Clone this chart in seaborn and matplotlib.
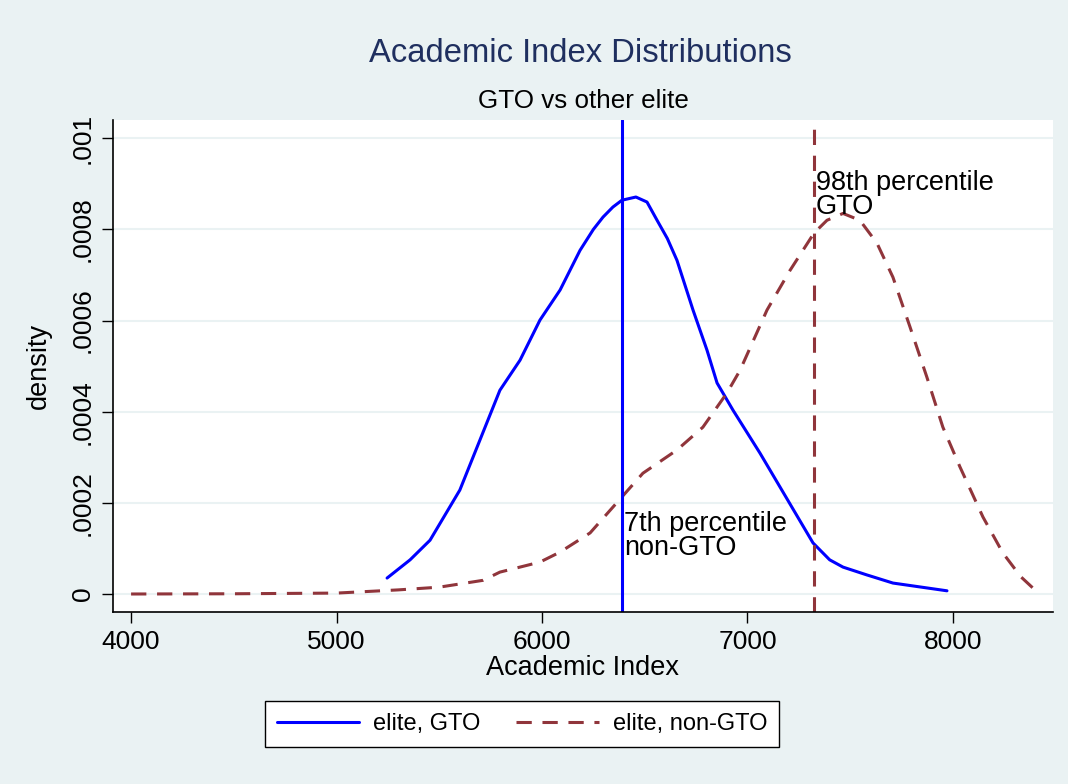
import numpy as np
import pandas as pd
import matplotlib
matplotlib.use('Agg')
import matplotlib.pyplot as plt
import seaborn as sns
from matplotlib.lines import Line2D

# density estimates
gto_x = [5246, 5358, 5455, 5600, 5698, 5795, 5893, 5990, 6088, 6185, 6250, 6297,
         6345, 6389, 6457, 6511, 6560, 6610, 6657, 6735, 6803, 6852, 6930, 7061,
         7158, 7319, 7400, 7465, 7580, 7708, 7971]
gto_y = [0.000035, 0.000075, 0.000118, 0.000228, 0.000338, 0.000447, 0.000513,
         0.000601, 0.000667, 0.000754, 0.000800, 0.000827, 0.000849, 0.000864,
         0.000871, 0.000860, 0.000820, 0.000780, 0.000732, 0.000623, 0.000535,
         0.000463, 0.000403, 0.000309, 0.000235, 0.000112, 0.000075, 0.000059,
         0.000042, 0.000024, 0.000007]

non_x = [4000, 4500, 5000, 5300, 5500, 5713, 5795, 5990, 6088, 6234, 6389, 6491,
         6657, 6783, 6900, 6964, 7095, 7207, 7324, 7387, 7465, 7547, 7630, 7708,
         7791, 7873, 7951, 8034, 8146, 8243, 8330, 8399]
non_y = [0.0, 0.0000005, 0.000002, 0.000009, 0.000015, 0.00003, 0.000048, 0.00007,
         0.000092, 0.000134, 0.000213, 0.000265, 0.000316, 0.000366, 0.000441,
         0.000491, 0.000623, 0.00071, 0.000792, 0.00082, 0.000835, 0.00082,
         0.00077, 0.000695, 0.000586, 0.000476, 0.000366, 0.000279, 0.000169,
         0.00009, 0.000038, 0.000009]

p7_nongto = 6389
p98_gto = 7324

series_labels = ['elite, GTO', 'elite, non-GTO']
x_ticks = [4000, 5000, 6000, 7000, 8000]
y_ticks = [0, 0.0002, 0.0004, 0.0006, 0.0008, 0.001]
y_ticklabels = ['0', '.0002', '.0004', '.0006', '.0008', '.001']

bg = '#EAF2F3'
blue = '#0000FF'
maroon = '#90353B'
dash = [5, 3.5]

sns.set_style('white')
plt.rcParams['font.family'] = ['Liberation Sans', 'DejaVu Sans']
plt.rcParams['text.color'] = 'black'
plt.rcParams['axes.labelcolor'] = 'black'
plt.rcParams['xtick.color'] = 'black'
plt.rcParams['ytick.color'] = 'black'

fig = plt.figure(figsize=(10.68, 7.84), dpi=100, facecolor=bg)
ax = fig.add_axes([113 / 1068, 1 - 612 / 784, 940 / 1068, 492 / 784])
ax.set_facecolor('white')

gto = pd.DataFrame({'x': gto_x, 'y': gto_y})
non = pd.DataFrame({'x': non_x, 'y': non_y})

for t in y_ticks:
    ax.axhline(t, color=bg, lw=1.5, zorder=0)

sns.lineplot(data=gto, x='x', y='y', ax=ax, color=blue, lw=2.2, sort=False)
sns.lineplot(data=non, x='x', y='y', ax=ax, color=maroon, lw=2.2, sort=False)
ax.lines[-1].set_dashes(dash)

ax.axvline(p7_nongto, color=blue, lw=2.2)
vl = ax.axvline(p98_gto, color=maroon, lw=2.2)
vl.set_dashes(dash)

ax.text(p7_nongto + 10, 0.000183, '7th percentile\nnon-GTO', fontsize=19.5,
        va='top', ha='left', linespacing=0.9)
ax.text(p98_gto + 10, 0.00093, '98th percentile\nGTO', fontsize=19.5,
        va='top', ha='left', linespacing=0.9)

ax.set_xlim(3912, 8487)
ax.set_ylim(-0.0000395, 0.00104)
ax.set_xticks(x_ticks)
ax.set_xticklabels([str(v) for v in x_ticks], fontsize=19)
ax.set_yticks(y_ticks)
ax.set_yticklabels(y_ticklabels, fontsize=19, rotation=90, va='center')
ax.tick_params(axis='both', direction='out', length=8, width=1, color='black',
               left=True, bottom=True, pad=5)
for s in ['top', 'right']:
    ax.spines[s].set_visible(False)
for s in ['left', 'bottom']:
    ax.spines[s].set_color('black')
    ax.spines[s].set_linewidth(1.2)

ax.set_xlabel('Academic Index', fontsize=19.5, labelpad=1)
ax.set_ylabel('density', fontsize=19.5, labelpad=14)

fig.text(580 / 1068, 1 - 54 / 784, 'Academic Index Distributions', fontsize=23.6,
         color='#1F2F5F', ha='center', va='center')
fig.text(583 / 1068, 1 - 101 / 784, 'GTO vs other elite', fontsize=18.7,
         color='black', ha='center', va='center')

handles = [Line2D([0], [0], color=blue, lw=2.2),
           Line2D([0], [0], color=maroon, lw=2.2, dashes=dash)]
leg = fig.legend(handles, series_labels, loc='center', ncol=2,
                 bbox_to_anchor=(522 / 1068, 1 - 724 / 784), fontsize=17,
                 frameon=True, fancybox=False, edgecolor='black', facecolor='white',
                 framealpha=1, handlelength=3.5, handletextpad=0.6,
                 columnspacing=1.5, borderpad=0.5)
leg.get_frame().set_linewidth(1.0)

fig.savefig('out.png', dpi=100, facecolor=bg)
plt.close()
